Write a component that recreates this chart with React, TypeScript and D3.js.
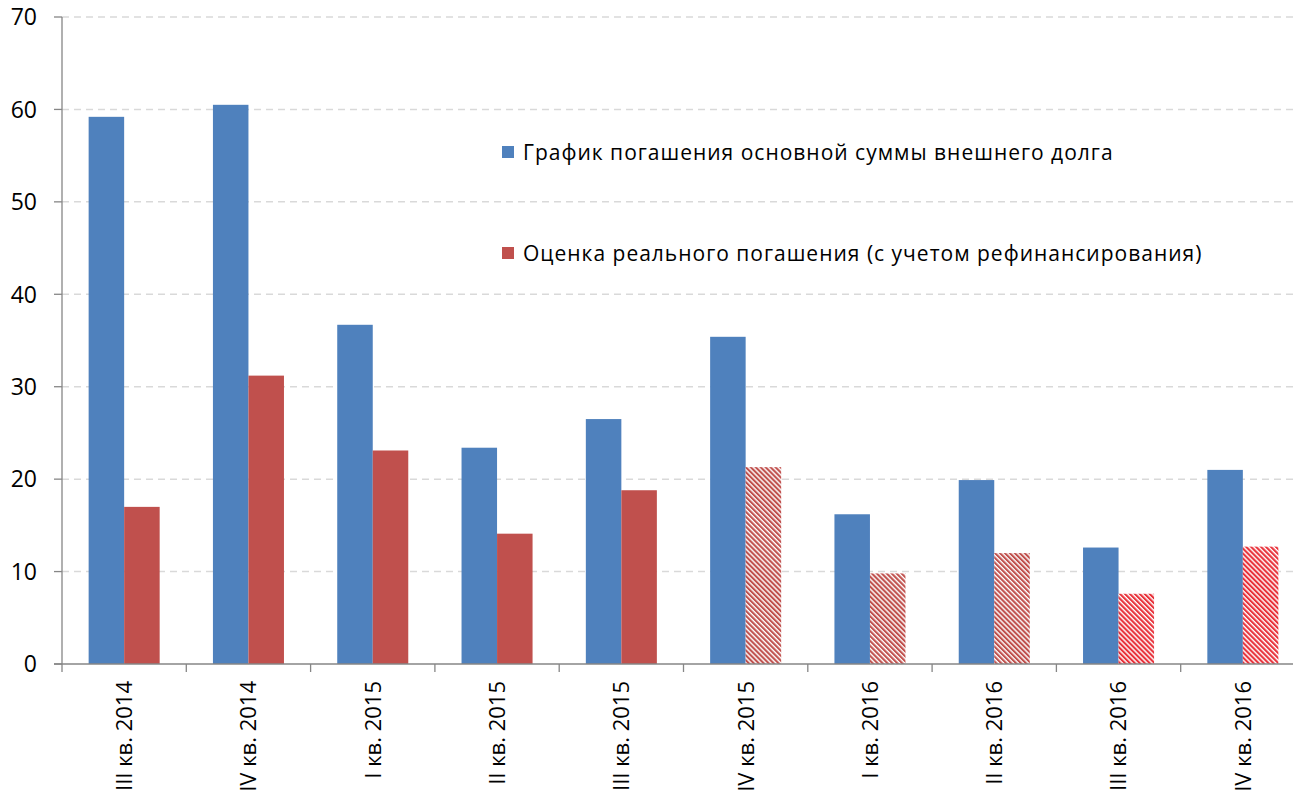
import React, { useEffect, useRef } from "react";
import * as d3 from "d3";

const categories = [
  "III кв. 2014", "IV кв. 2014", "I кв. 2015", "II кв. 2015", "III кв. 2015",
  "IV кв. 2015", "I кв. 2016", "II кв. 2016", "III кв. 2016", "IV кв. 2016",
];
const scheduleValues = [59.2, 60.5, 36.7, 23.4, 26.5, 35.4, 16.2, 19.9, 12.6, 21.0];
const realValues = [17.0, 31.2, 23.1, 14.1, 18.8, 21.3, 9.8, 12.0, 7.6, 12.7];
// how each "real" bar is filled: solid, hatched, or bright hatched
const realFill = ["solid", "solid", "solid", "solid", "solid", "hatch", "hatch", "hatch", "hatchBright", "hatchBright"];
const yTicks = [0, 10, 20, 30, 40, 50, 60, 70];
const legendLabels = [
  "График погашения основной суммы внешнего долга",
  "Оценка реального погашения (с учетом рефинансирования)",
];

const BLUE = "#4f81bd";
const RED = "#c0504d";
const BRIGHT_RED = "#e8313a";
const FONT = "'Open Sans', 'DejaVu Sans', sans-serif";

const App = () => {
  const ref = useRef<SVGSVGElement>(null);

  useEffect(() => {
    const width = 1293, height = 802;
    const margin = { left: 62, top: 17, bottom: 138 };
    const plotBottom = height - margin.bottom;
    const step = 124.3;

    const svg = d3.select(ref.current);
    svg.selectAll("*").remove();

    const defs = svg.append("defs");
    const addHatch = (id: string, color: string) => {
      const p = defs
        .append("pattern")
        .attr("id", id)
        .attr("patternUnits", "userSpaceOnUse")
        .attr("width", 3.5)
        .attr("height", 10)
        .attr("patternTransform", "rotate(-45)");
      p.append("rect").attr("width", 3.5).attr("height", 10).attr("fill", "#fff");
      p.append("rect").attr("width", 2.1).attr("height", 10).attr("fill", color);
    };
    addHatch("hatch", RED);
    addHatch("hatchBright", BRIGHT_RED);

    const x = d3
      .scaleBand()
      .domain(categories)
      .range([margin.left, margin.left + step * categories.length]);
    const inner = d3.scaleBand().domain(["a", "b"]).range([0, x.bandwidth()]).paddingOuter(0.75);
    const y = d3.scaleLinear().domain([0, 70]).range([plotBottom, margin.top]);

    // grid
    svg
      .append("g")
      .selectAll("line")
      .data(yTicks.filter((t) => t > 0))
      .enter()
      .append("line")
      .attr("x1", margin.left)
      .attr("x2", width)
      .attr("y1", (d) => y(d))
      .attr("y2", (d) => y(d))
      .attr("stroke", "#d9d9d9")
      .attr("stroke-width", 1.5)
      .attr("stroke-dasharray", "7,5");

    // bars
    svg
      .append("g")
      .selectAll("rect")
      .data(categories)
      .enter()
      .append("rect")
      .attr("x", (d) => x(d)! + inner("a")!)
      .attr("y", (d, i) => y(scheduleValues[i]))
      .attr("width", inner.bandwidth())
      .attr("height", (d, i) => plotBottom - y(scheduleValues[i]))
      .attr("fill", BLUE);

    svg
      .append("g")
      .selectAll("rect")
      .data(categories)
      .enter()
      .append("rect")
      .attr("x", (d) => x(d)! + inner("b")!)
      .attr("y", (d, i) => y(realValues[i]))
      .attr("width", inner.bandwidth())
      .attr("height", (d, i) => plotBottom - y(realValues[i]))
      .attr("fill", (d, i) => (realFill[i] === "solid" ? RED : `url(#${realFill[i]})`));

    // y axis
    const yAxis = svg.append("g");
    yAxis
      .append("line")
      .attr("x1", margin.left)
      .attr("x2", margin.left)
      .attr("y1", y(70))
      .attr("y2", plotBottom)
      .attr("stroke", "#868686")
      .attr("stroke-width", 1.3);
    yAxis
      .selectAll("line.tick")
      .data(yTicks)
      .enter()
      .append("line")
      .attr("class", "tick")
      .attr("x1", margin.left - 8)
      .attr("x2", margin.left)
      .attr("y1", (d) => y(d))
      .attr("y2", (d) => y(d))
      .attr("stroke", "#868686")
      .attr("stroke-width", 1.3);
    yAxis
      .selectAll("text")
      .data(yTicks)
      .enter()
      .append("text")
      .attr("x", 37)
      .attr("y", (d) => y(d))
      .attr("dy", "0.36em")
      .attr("text-anchor", "end")
      .attr("font-family", FONT)
      .attr("font-size", 23)
      .attr("fill", "#000")
      .text((d) => d);

    // x axis
    const xAxis = svg.append("g");
    xAxis
      .append("line")
      .attr("x1", margin.left - 8)
      .attr("x2", width)
      .attr("y1", plotBottom)
      .attr("y2", plotBottom)
      .attr("stroke", "#868686")
      .attr("stroke-width", 1.3);
    xAxis
      .selectAll("line.tick")
      .data(categories)
      .enter()
      .append("line")
      .attr("class", "tick")
      .attr("x1", (d) => x(d)!)
      .attr("x2", (d) => x(d)!)
      .attr("y1", plotBottom)
      .attr("y2", plotBottom + 8)
      .attr("stroke", "#868686")
      .attr("stroke-width", 1.3);
    xAxis
      .selectAll("text")
      .data(categories)
      .enter()
      .append("text")
      .attr("transform", (d) => `translate(${x(d)! + x.bandwidth() / 2}, ${plotBottom + 17}) rotate(-90)`)
      .attr("dy", "0.36em")
      .attr("text-anchor", "end")
      .attr("font-family", FONT)
      .attr("font-size", 22)
      .attr("fill", "#000")
      .text((d) => d);

    // legend
    const legend = svg.append("g").attr("transform", "translate(502, 0)");
    const legendY = [152, 253];
    legendLabels.forEach((label, i) => {
      legend
        .append("rect")
        .attr("x", 0)
        .attr("y", legendY[i] - 6)
        .attr("width", 12)
        .attr("height", 12)
        .attr("fill", i === 0 ? BLUE : RED);
      legend
        .append("text")
        .attr("x", 21)
        .attr("y", legendY[i])
        .attr("dy", "0.36em")
        .attr("font-family", FONT)
        .attr("font-size", 21)
        .attr("letter-spacing", 1)
        .attr("fill", "#000")
        .text(label);
    });
  }, []);

  return (
    <div style={{ position: "absolute", left: 0, top: 0 }}>
      <svg ref={ref} width={1293} height={802} style={{ display: "block" }} />
    </div>
  );
};

export default App;
